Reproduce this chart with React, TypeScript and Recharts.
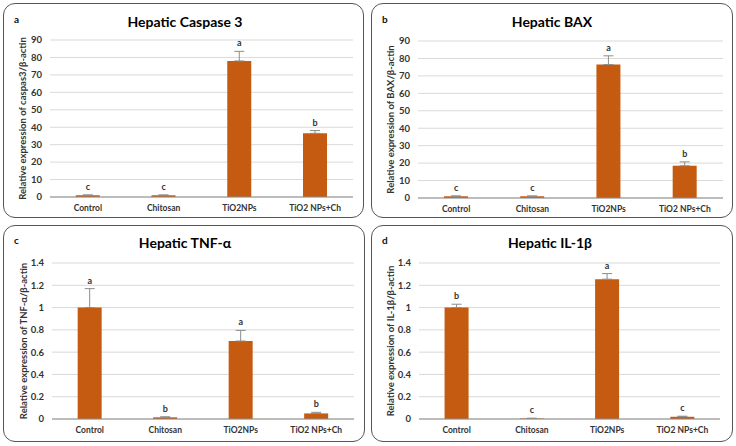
import React from 'react';
import {
  ComposedChart, Bar, Line, XAxis, YAxis, CartesianGrid, ErrorBar, LabelList,
} from 'recharts';

const categories = ['Control', 'Chitosan', 'TiO2NPs', 'TiO2 NPs+Ch'];

const caspaseValues = [1, 1, 78, 36.5];
const caspaseErrors = [0.2, 0.2, 5.5, 1.6];
const caspaseLetters = ['c', 'c', 'a', 'b'];

const baxValues = [1, 1, 76.5, 18.5];
const baxErrors = [0.2, 0.2, 5, 2.2];
const baxLetters = ['c', 'c', 'a', 'b'];

const tnfValues = [1, 0.015, 0.7, 0.05];
const tnfErrors = [0.17, 0.005, 0.095, 0.01];
const tnfLetters = ['a', 'b', 'a', 'b'];

const il1bValues = [1, 0.005, 1.255, 0.02];
const il1bErrors = [0.03, 0.002, 0.05, 0.005];
const il1bLetters = ['b', 'c', 'a', 'c'];

const bigTicks = [0, 10, 20, 30, 40, 50, 60, 70, 80, 90];
const smallTicks = [0, 0.2, 0.4, 0.6, 0.8, 1, 1.2, 1.4];

const FONT = 'Lato, "Open Sans", sans-serif';
const BAR = '#C55A11';
const TEXT = '#333333';

function buildRows(values: number[], errors: number[], letters: string[]) {
  return categories.map((name, i) => ({
    name,
    value: values[i],
    err: [0, errors[i]],
    top: values[i] + errors[i],
    letter: letters[i],
  }));
}

type PanelProps = {
  left: number; top: number; w: number; h: number;
  letter: string; title: string; titleX: number; titleY: number;
  yLabel: string; ticks: number[]; domainMax: number;
  values: number[]; errors: number[]; letters: string[];
  mTop: number; mRight: number; yW: number; xH: number;
};

function Panel(p: PanelProps) {
  const data = buildRows(p.values, p.errors, p.letters);
  return (
    <div style={{ position: 'absolute', left: p.left, top: p.top, width: p.w, height: p.h }}>
      <div style={{ position: 'absolute', left: 0, top: 0 }}>
        <ComposedChart width={p.w} height={p.h} data={data}
          margin={{ top: p.mTop, right: p.mRight, left: 0, bottom: 0 }}
          barCategoryGap="34%">
          <CartesianGrid vertical={false} stroke="#d9d9d9" />
          <XAxis xAxisId="ticks" type="number" domain={[0, 4]} ticks={[0, 1, 2, 3, 4]}
            tick={false} tickSize={4} axisLine={false} height={0}
            tickLine={{ stroke: '#8c8c8c' }} />
          <XAxis dataKey="name" tickLine={false} axisLine={{ stroke: '#8c8c8c' }}
            height={p.xH} interval={0}
            tick={{ fontSize: 8.5, fill: TEXT, fontWeight: 700, fontFamily: FONT }} />
          <YAxis width={p.yW} domain={[0, p.domainMax]} ticks={p.ticks} axisLine={false}
            tickLine={false} interval={0}
            tick={{ fontSize: 9.5, fill: TEXT, fontWeight: 700, fontFamily: FONT }}
            label={{
              value: p.yLabel, angle: -90, position: 'center', dx: -4,
              style: { fontSize: 9.5, fontWeight: 700, fill: TEXT, fontFamily: FONT },
            }} />
          <Bar dataKey="value" fill={BAR} isAnimationActive={false}>
            <ErrorBar dataKey="err" width={5} stroke="#8c8c8c" strokeWidth={1} direction="y" />
          </Bar>
          <Line dataKey="top" stroke="none" dot={false} activeDot={false} isAnimationActive={false}>
            <LabelList dataKey="letter" position="top" offset={5}
              style={{ fontSize: 9, fontWeight: 700, fill: TEXT, fontFamily: FONT }} />
          </Line>
        </ComposedChart>
      </div>
      <div style={{ position: 'absolute', left: 0, top: 0, width: p.w, height: p.h, boxSizing: 'border-box', border: '1.5px solid #555', borderRadius: 12, pointerEvents: 'none' }} />
      <div style={{ position: 'absolute', left: 11, top: p.titleY - 9, fontFamily: FONT, fontWeight: 700, fontSize: 10, color: '#111', lineHeight: '12px' }}>{p.letter}</div>
      <div style={{ position: 'absolute', left: p.titleX - 100, width: 200, top: p.titleY - 9, textAlign: 'center', fontFamily: FONT, fontWeight: 700, fontSize: 14, color: '#000', lineHeight: '18px' }}>{p.title}</div>
    </div>
  );
}

export default function App() {
  return (
    <div style={{ position: 'absolute', left: 0, top: 0, width: 736, height: 446, background: '#fff', overflow: 'hidden' }}>
      <Panel left={3} top={3} w={361} h={215} letter="a" title="Hepatic Caspase 3" titleX={182} titleY={19}
        yLabel="Relative expression of caspas3/β-actin" ticks={bigTicks} domainMax={90}
        values={caspaseValues} errors={caspaseErrors} letters={caspaseLetters}
        mTop={37} mRight={11} yW={47} xH={21} />
      <Panel left={371} top={3} w={362} h={215} letter="b" title="Hepatic BAX" titleX={181} titleY={19}
        yLabel="Relative expression of BAX/β-actin" ticks={bigTicks} domainMax={90}
        values={baxValues} errors={baxErrors} letters={baxLetters}
        mTop={38} mRight={10} yW={47} xH={20} />
      <Panel left={3} top={225} w={362} h={217} letter="c" title="Hepatic TNF-α" titleX={182} titleY={18}
        yLabel="Relative  expression of TNF-α/β-actin" ticks={smallTicks} domainMax={1.4}
        values={tnfValues} errors={tnfErrors} letters={tnfLetters}
        mTop={38} mRight={11} yW={49} xH={23} />
      <Panel left={371} top={225} w={362} h={217} letter="d" title="Hepatic IL-1β" titleX={179} titleY={18}
        yLabel="Relative expression of IL-1β/β-actin" ticks={smallTicks} domainMax={1.4}
        values={il1bValues} errors={il1bErrors} letters={il1bLetters}
        mTop={38} mRight={13} yW={48} xH={23} />
    </div>
  );
}
